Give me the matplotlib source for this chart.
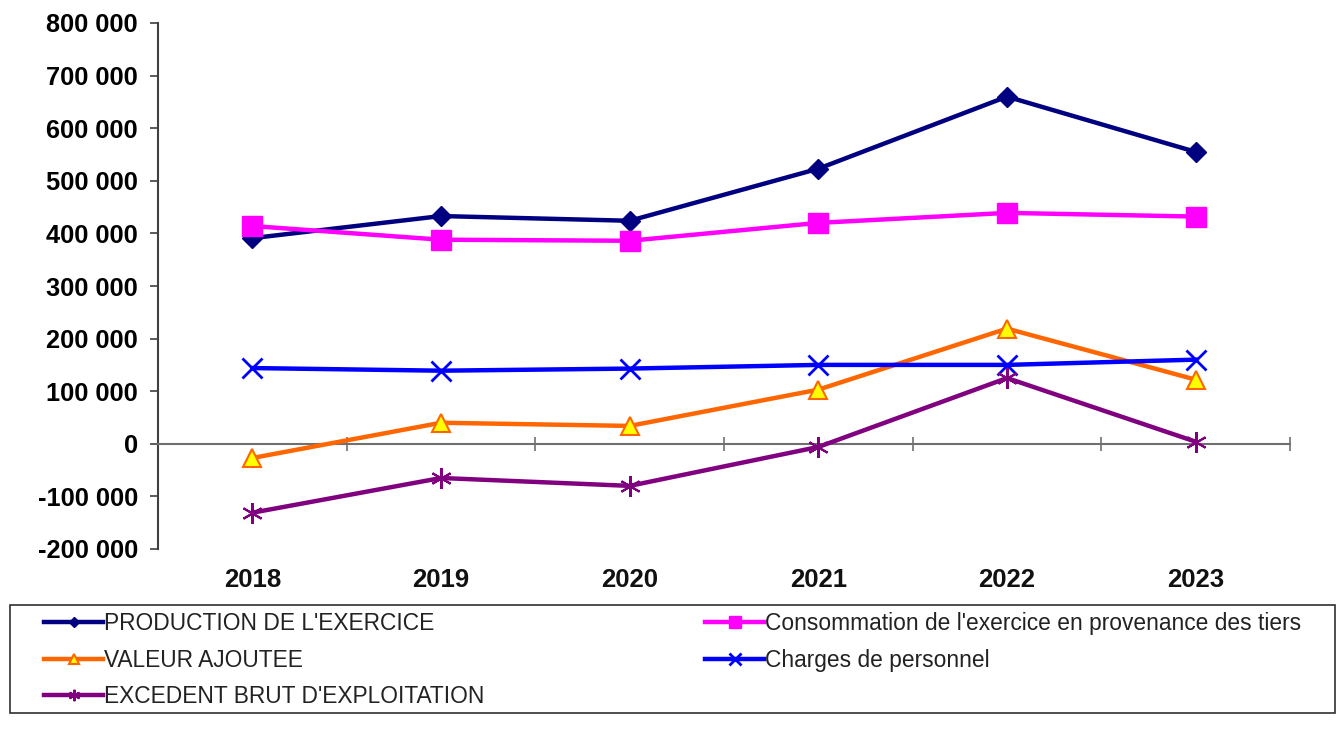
import matplotlib
matplotlib.use("Agg")
import matplotlib.pyplot as plt
from matplotlib.patches import Rectangle
from matplotlib.ticker import FuncFormatter, FixedLocator

plt.rcParams['font.family'] = ['Liberation Sans', 'DejaVu Sans']

years = ["2018", "2019", "2020", "2021", "2022", "2023"]
production = [391000, 433000, 424000, 523000, 660000, 555000]
consommation = [414000, 388000, 386000, 420000, 439000, 432000]
valeur_ajoutee = [-27000, 40000, 34000, 103000, 219000, 122000]
charges_personnel = [144000, 139000, 143000, 150000, 150000, 160000]
ebe = [-131000, -65000, -80000, -6000, 125000, 4000]

labels = ["PRODUCTION DE L'EXERCICE",
          "Consommation de l'exercice en provenance des tiers",
          "VALEUR AJOUTEE",
          "Charges de personnel",
          "EXCEDENT BRUT D'EXPLOITATION"]

W, H = 1344, 729
fig = plt.figure(figsize=(W / 100, H / 100), dpi=100)
ax = fig.add_axes([158 / W, 1 - 549 / H, (1290 - 158) / W, (549 - 23) / H])

x = list(range(len(years)))
lw = 3.2

h_prod, = ax.plot(x, production, color="#000080", lw=lw, marker="D", ms=10,
                  mfc="#000080", mec="#000080", label=labels[0], zorder=3)
h_cons, = ax.plot(x, consommation, color="#FF00FF", lw=lw, marker="s", ms=15,
                  mfc="#FF00FF", mec="#FF00FF", label=labels[1], zorder=3)
h_va, = ax.plot(x, valeur_ajoutee, color="#FF6600", lw=lw, marker="^", ms=13,
                mfc="#FFFF00", mec="#FF6600", mew=1.5, label=labels[2], zorder=3)
h_chg, = ax.plot(x, charges_personnel, color="#0000FF", lw=lw, marker="x", ms=15,
                 mew=2, mec="#0000FF", label=labels[3], zorder=3)
h_ebe, = ax.plot(x, ebe, color="#800080", lw=lw, marker=(6, 2, 0), ms=15,
                 mew=1.5, mec="#800080", label=labels[4], zorder=3)

ax.set_xlim(-0.5, len(years) - 0.5)
ax.set_ylim(-200000, 800000)

ax.yaxis.set_major_locator(FixedLocator(range(-200000, 800001, 100000)))
ax.yaxis.set_major_formatter(FuncFormatter(lambda v, p: f"{int(v):,}".replace(",", " ")))
ax.tick_params(axis="y", labelsize=18.3, length=6, width=1.2, color="#404040", pad=8.5)
for t in ax.get_yticklabels():
    t.set_fontweight("bold")

for s in ("top", "right"):
    ax.spines[s].set_visible(False)
ax.spines["left"].set_color("#404040")
ax.spines["left"].set_linewidth(1.5)
ax.spines["bottom"].set_position(("data", 0))
ax.spines["bottom"].set_color("#707070")
ax.spines["bottom"].set_linewidth(1.5)

ax.xaxis.set_major_locator(FixedLocator([i - 0.5 for i in range(len(years) + 1)]))
ax.xaxis.set_major_formatter(FuncFormatter(lambda v, p: ""))
ax.tick_params(axis="x", direction="inout", length=10, width=1.2, color="#707070")

for i, yr in enumerate(years):
    ax.text(i, -0.059, yr, transform=ax.get_xaxis_transform(), ha="center", va="center",
            fontsize=18.5, fontweight="bold", color="#111111")

# Legend frame spanning the figure width, with two columns of entries inside
fig.patches.append(Rectangle((10 / W, 1 - 713 / H), 1325 / W, 108 / H,
                             transform=fig.transFigure, fill=False,
                             edgecolor="#303030", linewidth=1.2))

leg_kw = dict(fontsize=16.4, frameon=False, handlelength=2.6, handletextpad=0.05,
              markerscale=0.55, labelspacing=0.6, borderpad=0, borderaxespad=0,
              labelcolor="#222222", loc="upper left")
leg1 = fig.legend(handles=[h_prod, h_va, h_ebe],
                  bbox_to_anchor=(44 / W, 1 - 612 / H), **leg_kw)
leg2 = fig.legend(handles=[h_cons, h_chg],
                  bbox_to_anchor=(705 / W, 1 - 612 / H), **leg_kw)

fig.savefig("out.png", dpi=100, facecolor="white")
